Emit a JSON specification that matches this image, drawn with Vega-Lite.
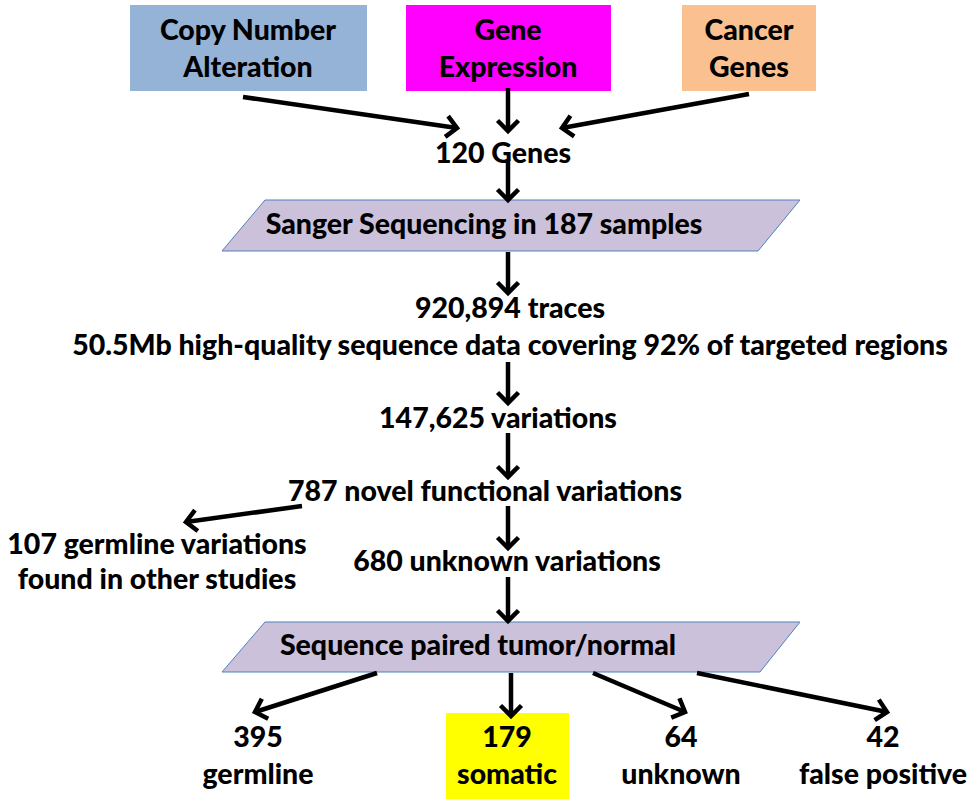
{
  "$schema": "https://vega.github.io/schema/vega-lite/v6.json",
  "width": 975,
  "height": 799,
  "padding": 0,
  "autosize": {"type": "fit", "contains": "padding"},
  "background": "white",
  "config": {"view": {"stroke": null}},
  "datasets": {
    "boxes": [
      {"box": "Copy Number Alteration", "x": 130, "x2": 367, "y": 5, "y2": 91},
      {"box": "Gene Expression", "x": 406, "x2": 611, "y": 5, "y2": 91},
      {"box": "Cancer Genes", "x": 682, "x2": 816, "y": 5, "y2": 91},
      {"box": "179 somatic", "x": 446, "x2": 569, "y": 713, "y2": 799}
    ],
    "shapes": [
      {"shape": "Sanger", "y": 200, "left": 265, "right": 800},
      {"shape": "Sanger", "y": 251, "left": 222, "right": 758},
      {"shape": "Sequence", "y": 622, "left": 265, "right": 800},
      {"shape": "Sequence", "y": 672, "left": 222, "right": 760}
    ],
    "arrows": [
      {"id": 1, "x": 243, "y": 97, "x2": 457, "y2": 128, "dir": 8.2},
      {"id": 2, "x": 508, "y": 88, "x2": 508, "y2": 131, "dir": 90},
      {"id": 3, "x": 749, "y": 94, "x2": 562, "y2": 128, "dir": 169.7},
      {"id": 4, "x": 508, "y": 160, "x2": 508, "y2": 200, "dir": 90},
      {"id": 5, "x": 508, "y": 252, "x2": 508, "y2": 293, "dir": 90},
      {"id": 6, "x": 508, "y": 362, "x2": 508, "y2": 403, "dir": 90},
      {"id": 7, "x": 508, "y": 433, "x2": 508, "y2": 477, "dir": 90},
      {"id": 8, "x": 508, "y": 506, "x2": 508, "y2": 548, "dir": 90},
      {"id": 9, "x": 302, "y": 506, "x2": 186, "y2": 522, "dir": 172.1},
      {"id": 10, "x": 508, "y": 577, "x2": 508, "y2": 621, "dir": 90},
      {"id": 11, "x": 377, "y": 673, "x2": 255, "y2": 712, "dir": 162.3},
      {"id": 12, "x": 511, "y": 673, "x2": 511, "y2": 716, "dir": 90},
      {"id": 13, "x": 593, "y": 673, "x2": 685, "y2": 712, "dir": 23},
      {"id": 14, "x": 697, "y": 673, "x2": 887, "y2": 712, "dir": 11.6}
    ],
    "labels": [
      {"t": "Copy Number", "x": 248, "y": 31},
      {"t": "Alteration", "x": 248, "y": 68},
      {"t": "Gene", "x": 508, "y": 31},
      {"t": "Expression", "x": 508, "y": 68},
      {"t": "Cancer", "x": 749, "y": 31},
      {"t": "Genes", "x": 749, "y": 68},
      {"t": "120 Genes", "x": 503, "y": 154},
      {"t": "Sanger Sequencing in 187 samples", "x": 484, "y": 225},
      {"t": "920,894 traces", "x": 510, "y": 309},
      {"t": "50.5Mb high-quality sequence data covering 92% of targeted regions", "x": 510, "y": 346},
      {"t": "147,625 variations", "x": 498, "y": 419},
      {"t": "787 novel functional variations", "x": 485, "y": 492},
      {"t": "107 germline variations", "x": 157, "y": 545},
      {"t": "found in other studies", "x": 157, "y": 580},
      {"t": "680 unknown variations", "x": 507, "y": 562},
      {"t": "Sequence paired tumor/normal", "x": 478, "y": 646},
      {"t": "395", "x": 258, "y": 738},
      {"t": "germline", "x": 258, "y": 775},
      {"t": "179", "x": 507, "y": 738},
      {"t": "somatic", "x": 507, "y": 775},
      {"t": "64", "x": 681, "y": 738},
      {"t": "unknown", "x": 681, "y": 775},
      {"t": "42", "x": 883, "y": 738},
      {"t": "false positive", "x": 883, "y": 775}
    ]
  },
  "layer": [
    {
      "data": {"name": "boxes"},
      "mark": {"type": "rect"},
      "encoding": {
        "x": {"field": "x", "type": "quantitative", "scale": {"domain": [0, 975], "nice": false, "zero": false}, "axis": null},
        "x2": {"field": "x2"},
        "y": {"field": "y", "type": "quantitative", "scale": {"domain": [0, 799], "nice": false, "zero": false, "reverse": true}, "axis": null},
        "y2": {"field": "y2"},
        "fill": {
          "field": "box", "type": "nominal", "legend": null,
          "scale": {"domain": ["Copy Number Alteration", "Gene Expression", "Cancer Genes", "179 somatic"], "range": ["#95B3D7", "#FF00FF", "#FAC090", "#FFFF00"]}
        }
      }
    },
    {
      "data": {"name": "shapes"},
      "mark": {"type": "area", "orient": "horizontal", "fill": "#CCC1DA", "stroke": "#4F81BD", "strokeWidth": 1, "opacity": 1, "fillOpacity": 1},
      "encoding": {
        "y": {"field": "y", "type": "quantitative"},
        "x": {"field": "left", "type": "quantitative"},
        "x2": {"field": "right"},
        "detail": {"field": "shape", "type": "nominal"}
      }
    },
    {
      "data": {"name": "arrows"},
      "mark": {"type": "rule", "color": "black", "strokeWidth": 4.5},
      "encoding": {
        "x": {"field": "x", "type": "quantitative"},
        "y": {"field": "y", "type": "quantitative"},
        "x2": {"field": "x2"},
        "y2": {"field": "y2"}
      }
    },
    {
      "data": {"name": "arrows"},
      "mark": {"type": "point", "shape": "M-1,-1L0,0L-1,1", "filled": false, "stroke": "black", "strokeWidth": 4.5, "size": 440, "opacity": 1, "strokeJoin": "miter"},
      "encoding": {
        "x": {"field": "x2", "type": "quantitative"},
        "y": {"field": "y2", "type": "quantitative"},
        "angle": {"field": "dir", "type": "quantitative", "scale": null}
      }
    },
    {
      "data": {"name": "labels"},
      "mark": {"type": "text", "font": "Lato", "fontWeight": 900, "fontSize": 28.5, "color": "black", "align": "center", "baseline": "middle"},
      "encoding": {
        "x": {"field": "x", "type": "quantitative"},
        "y": {"field": "y", "type": "quantitative"},
        "text": {"field": "t", "type": "nominal"}
      }
    }
  ]
}
